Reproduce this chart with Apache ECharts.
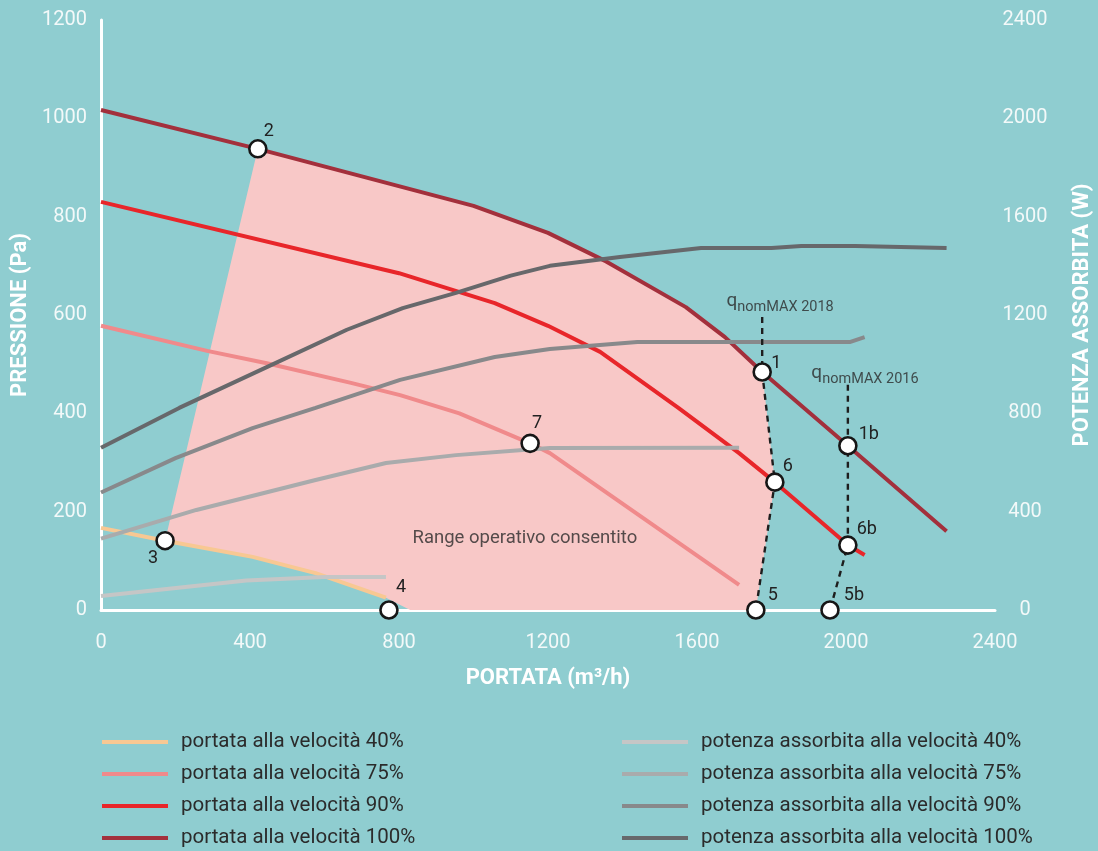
<!DOCTYPE html>
<html><head><meta charset="utf-8">
<script src="https://cdn.jsdelivr.net/npm/echarts@6/dist/echarts.min.js"></script>
<style>html,body{margin:0;padding:0;background:#8fcdd0;overflow:hidden}#c{width:1098px;height:851px}</style>
</head><body><div id="c"></div>
<script>
// ---- data ----
const speeds = ['40%', '75%', '90%', '100%'];
const pressureNames = speeds.map(s => 'portata alla velocità ' + s);
const powerNames = speeds.map(s => 'potenza assorbita alla velocità ' + s);

// pressure curves [portata m3/h, pressione Pa]
const pressure40 = [[0,167],[172,141],[407,108],[576,75],[765,25]];
const pressure75 = [[0,578],[285,527],[445,502],[671,462],[803,437],[962,400],[1152,339],[1205,319],[1713,51]];
const pressure90 = [[0,830],[800,685],[1057,624],[1200,578],[1340,525],[1550,411],[1713,319],[1809,260],[2005,132],[2050,112]];
const pressure100 = [[0,1017],[421,938],[1000,822],[1200,767],[1356,709],[1570,616],[1675,555],[1775,484],[2005,334],[2270,160]];

// absorbed power curves [portata m3/h, potenza W]
const power40 = [[0,57],[390,120],[600,134],[765,134]];
const power75 = [[0,290],[256,407],[576,529],[765,598],[953,630],[1141,652],[1205,659],[1713,660]];
const power90 = [[0,478],[200,618],[407,740],[576,822],[803,936],[1057,1029],[1205,1062],[1440,1090],[2010,1090],[2050,1110]];
const power100 = [[0,660],[210,822],[445,988],[660,1140],[810,1228],[953,1290],[1100,1360],[1205,1400],[1393,1436],[1611,1473],[1800,1473],[1880,1481],[2025,1481],[2270,1473]];

// operating points
const pointNames = ['1','1b','2','3','4','5','5b','6','6b','7'];
const pointValues = [[1775,484],[2005,334],[421,938],[172,141],[773,0],[1758,0],[1957,0],[1809,260],[2005,132],[1152,339]];

// qnomMAX limit lines
const qnom2018 = [[1775,596],[1775,484],[1809,260],[1758,0]];
const qnom2016 = [[2005,458],[2005,334],[2005,132],[1957,0]];

// allowed operating range polygon
const operatingZone = [[172,141],[421,938],[1000,822],[1200,767],[1356,709],[1570,616],[1675,555],[1775,484],[1809,260],[1758,0],[830,0],[765,25],[576,75],[407,108]];

// annotation texts and anchors (data coords)
const zoneText = 'Range operativo consentito';
const zoneTextAt = [1138,146];
const qLabels = ['nomMAX 2018', 'nomMAX 2016'];
const qLabelAt = [[1823,624],[2051,478]];

// ---- styles ----
const pressureColors = ['#f8c893','#f08a8b','#e8262a','#a3303c'];
const powerColors = ['#c5c6c6','#a9abac','#88898b','#67686b'];
const pointLabelOffset = {'1':[14,-9],'1b':[21,-11],'2':[11,-17],'3':[-12,18],'4':[12,-23],'5':[17,-15],'5b':[24,-15],'6':[13,-16],'6b':[19,-16],'7':[7,-20]};

const pressureData = [pressure40, pressure75, pressure90, pressure100];
const powerData = [power40, power75, power90, power100];

const series = [];
series.push({
  type: 'custom', name: 'zone', xAxisIndex: 0, yAxisIndex: 0, z: 1, silent: true,
  data: [[0,0]],
  renderItem: function (params, api) {
    return {
      type: 'polygon',
      shape: { points: operatingZone.map(p => api.coord(p)) },
      style: { fill: '#f8c8c7', stroke: null }
    };
  }
});
pressureData.forEach((d, i) => series.push({
  type: 'line', name: pressureNames[i], yAxisIndex: 0, data: d, symbol: 'none', z: 3,
  color: pressureColors[i], lineStyle: { width: 4, color: pressureColors[i] }
}));
powerData.forEach((d, i) => series.push({
  type: 'line', name: powerNames[i], yAxisIndex: 1, data: d, symbol: 'none', z: 4,
  color: powerColors[i], lineStyle: { width: 4, color: powerColors[i] }
}));
[qnom2018, qnom2016].forEach((d, i) => series.push({
  type: 'line', name: 'qnom' + i, yAxisIndex: 0, data: d, symbol: 'none', z: 5,
  lineStyle: { width: 2.4, color: '#1e1e1e', type: [6, 5] }
}));
series.push({
  type: 'scatter', name: 'punti', yAxisIndex: 0, z: 6,
  symbol: 'circle', symbolSize: 17,
  itemStyle: { color: '#ffffff', borderColor: '#161616', borderWidth: 2.6, opacity: 1 },
  data: pointValues.map((v, i) => ({
    name: pointNames[i], value: v,
    label: { offset: pointLabelOffset[pointNames[i]] }
  })),
  label: { show: true, position: 'inside', formatter: '{b}', color: '#222', fontSize: 18, fontFamily: 'Roboto' }
});
series.push({
  type: 'scatter', name: 'testi', yAxisIndex: 0, z: 6, symbolSize: 0, silent: true,
  data: [
    { value: zoneTextAt, label: { formatter: zoneText, fontSize: 18.5, color: '#2a2a2a' } },
    { value: qLabelAt[0], label: { formatter: '{q|q}{s|' + qLabels[0] + '}' } },
    { value: qLabelAt[1], label: { formatter: '{q|q}{s|' + qLabels[1] + '}' } }
  ],
  label: {
    show: true, position: 'inside', fontFamily: 'Roboto', color: '#2a2a2a',
    rich: {
      q: { fontSize: 19, color: '#2a2a2a', verticalAlign: 'top', padding: [0, 0, 4, 0] },
      s: { fontSize: 14.5, color: '#2a2a2a', verticalAlign: 'bottom', padding: [4, 0, 0, 0] }
    }
  }
});

const legendBase = {
  orient: 'vertical', icon: 'rect', itemWidth: 66, itemHeight: 4, itemGap: 10,
  selectedMode: false, padding: 0, top: 731, height: 120,
  textStyle: { fontSize: 20.5, color: '#2b2b2b', lineHeight: 22, fontFamily: 'Roboto', padding: [0, 0, 0, 8] }
};

const axisLabelStyle = { color: '#f3f9f9', fontSize: 20, fontFamily: 'Roboto',
  formatter: v => String(v) };
const axisNameStyle = { color: '#ffffff', fontSize: 22, fontWeight: 'bold', fontFamily: 'Roboto' };

const option = {
  backgroundColor: '#8fcdd0',
  animation: false,
  textStyle: { fontFamily: 'Roboto' },
  grid: { left: 101, right: 103, top: 20, bottom: 241, containLabel: false, outerBoundsMode: 'none' },
  legend: [
    Object.assign({}, legendBase, { left: 102, data: pressureNames }),
    Object.assign({}, legendBase, { left: 622, data: powerNames })
  ],
  xAxis: {
    type: 'value', min: 0, max: 2400, interval: 400,
    axisLine: { show: true, lineStyle: { color: '#ffffff', width: 3 } },
    axisTick: { show: false }, splitLine: { show: false },
    axisLabel: Object.assign({ margin: 23 }, axisLabelStyle),
    name: 'PORTATA (m³/h)', nameLocation: 'middle', nameGap: 57, nameTextStyle: axisNameStyle
  },
  yAxis: [
    {
      type: 'value', min: 0, max: 1200, interval: 200, position: 'left',
      axisLine: { show: true, lineStyle: { color: '#ffffff', width: 3 } },
      axisTick: { show: false }, splitLine: { show: false },
      axisLabel: Object.assign({ margin: 14 }, axisLabelStyle),
      name: 'PRESSIONE (Pa)', nameLocation: 'middle', nameGap: 65, nameRotate: 90, nameTextStyle: axisNameStyle
    },
    {
      type: 'value', min: 0, max: 2400, interval: 400, position: 'right',
      axisLine: { show: false }, axisTick: { show: false }, splitLine: { show: false },
      axisLabel: Object.assign({ margin: 30, align: 'center' }, axisLabelStyle),
      name: 'POTENZA ASSORBITA (W)', nameLocation: 'middle', nameGap: 76, nameRotate: 90, nameTextStyle: axisNameStyle
    }
  ],
  series: series
};

const chart = echarts.init(document.getElementById('c'));
chart.setOption(option);
</script>
</body></html>
